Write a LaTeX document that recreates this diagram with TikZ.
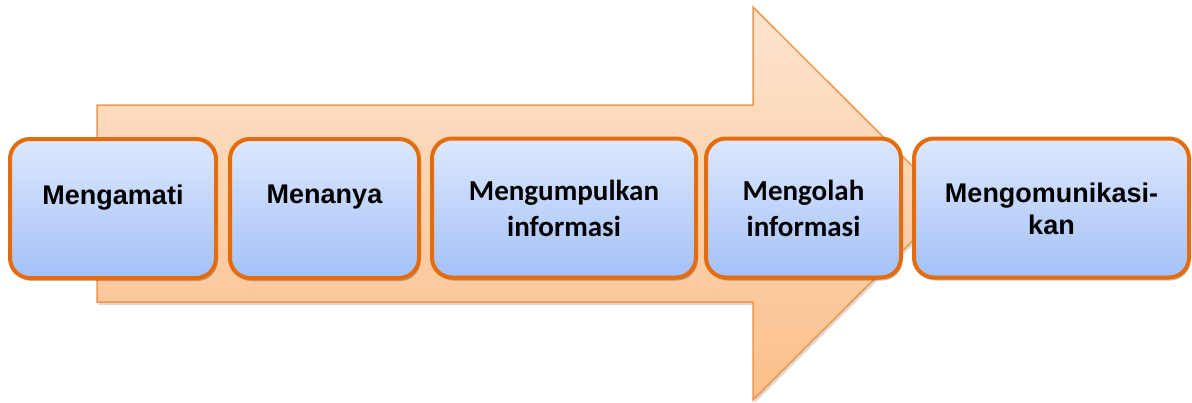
\documentclass[tikz,border=0pt]{standalone}
\usepackage{fontspec}
\setmainfont{Liberation Sans}
\newfontfamily\calibrifont{Carlito}
\usetikzlibrary{shadows}
\definecolor{arrow-top}{HTML}{FDE4D0}
\definecolor{arrow-bot}{HTML}{FBBF8A}
\definecolor{arrow-line}{HTML}{F79646}
\definecolor{step-top}{HTML}{DDE8FD}
\definecolor{step-bot}{HTML}{A4C1F8}
\definecolor{step-line}{HTML}{E46C0A}
\tikzset{
  stepbox/.style={
    draw=step-line, line width=4pt, rounded corners=20pt,
    top color=step-top, bottom color=step-bot,
    minimum height=139pt, inner sep=0pt,
    drop shadow={shadow xshift=1.5pt, shadow yshift=-3pt, opacity=0.25, fill=black}
  },
  arialtxt/.style={font=\fontsize{27}{32}\selectfont\bfseries, align=center, anchor=north, inner sep=0pt},
  calibritxt/.style={font=\fontsize{29}{36}\selectfont\calibrifont\bfseries, align=center, anchor=north, inner sep=0pt}
}

\begin{document}
\begin{tikzpicture}[x=1pt, y=-1pt]
  \useasboundingbox (0,0) rectangle (1192,402);

  % ---- big background arrow -------------------------------------------------
  \path[draw=arrow-line, line width=1.5pt, top color=arrow-top, bottom color=arrow-bot,
        drop shadow={shadow xshift=1.5pt, shadow yshift=-3pt, opacity=0.15, fill=black}]
    (97,105) -- (753,105) -- (753,7) -- (950,203.5) -- (753,400) -- (753,302) -- (97,302) -- cycle;

  % ---- steps ------------------------------------------------------------------
  \node[stepbox, minimum width=206pt] (s1) at (113,208.5) {};
  \node[stepbox, minimum width=189pt] (s2) at (324.5,208.5) {};
  \node[stepbox, minimum width=264pt] (s3) at (564,208) {};
  \node[stepbox, minimum width=195pt] (s4) at (803.5,208) {};
  \node[stepbox, minimum width=275pt] (s5) at (1051.5,208) {};

  % ---- labels -----------------------------------------------------------------
  \node[arialtxt] (t1) at (113,185) {Mengamati};
  \node[arialtxt] (t2) at (324.5,185) {Menanya};
  \node[calibritxt] (t3) at (564,180) {Mengumpulkan\\informasi};
  \node[calibritxt] (t4) at (803.5,180) {Mengolah\\informasi};
  \node[arialtxt] (t5) at (1051.5,183) {Mengomunikasi-\\kan};

\end{tikzpicture}
\end{document}
